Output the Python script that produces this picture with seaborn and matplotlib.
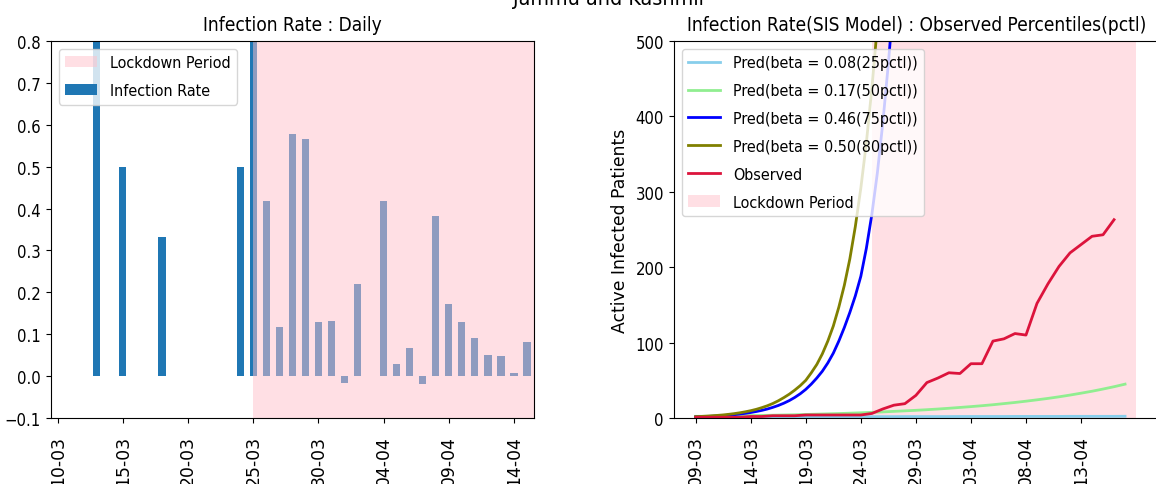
import numpy as np
import pandas as pd
import matplotlib
matplotlib.use("Agg")
import matplotlib.pyplot as plt
import matplotlib.dates as mdates
from matplotlib import font_manager
from matplotlib.patches import Patch
import seaborn as sns

# ---------------------------------------------------------------- data
# Daily infection rate (relative day-on-day change of active cases)
rate_dates = pd.date_range("2020-03-11", "2020-04-15", freq="D")
infection_rate = [
    0, 0, 1.0, 0, 0.5, 0, 0, 0.333, 0, 0, 0, 0, 0, 0.5, 1.0,
    0.417, 0.118, 0.579, 0.567, 0.128, 0.132,
    -0.017, 0.22, 0, 0.417, 0.029, 0.067, -0.018, 0.382, 0.171,
    0.129, 0.09, 0.05, 0.048, 0.008, 0.082,
]

# Observed active infected patients
obs_dates = pd.date_range("2020-03-09", "2020-04-16", freq="D")
observed = [
    1, 1, 1, 1, 1, 2, 2, 3, 3, 3, 4, 4, 4, 4, 4, 4,
    6, 12, 17, 19, 30, 47, 53,
    60, 59, 72, 72, 102, 105, 112, 110, 152, 178, 201, 219, 230, 241, 243, 263,
]

# SIS model predictions for several beta percentiles
pred_dates = pd.date_range("2020-03-09", "2020-04-17", freq="D")
pred_beta_008 = [
    1.5, 1.5, 1.5, 1.5, 1.6, 1.6, 1.6, 1.6, 1.6, 1.7,
    1.7, 1.7, 1.7, 1.7, 1.8, 1.8, 1.8, 1.8, 1.8, 1.9,
    1.9, 1.9, 1.9, 1.9, 2.0, 2.0, 2.0, 2.0, 2.0, 2.1,
    2.1, 2.1, 2.1, 2.1, 2.2, 2.2, 2.2, 2.2, 2.2, 2.3,
]
pred_beta_017 = [
    2.2, 2.3, 2.5, 2.7, 2.9, 3.2, 3.4, 3.7, 4.0, 4.3,
    4.7, 5.1, 5.5, 5.9, 6.4, 6.9, 7.5, 8.1, 8.8, 9.5,
    10.2, 11.0, 11.9, 12.9, 14.0, 15.1, 16.3, 17.6, 19.1, 20.6,
    22.3, 24.1, 26.0, 28.1, 30.4, 32.9, 35.5, 38.4, 41.5, 44.9,
]

# The two fast-growing predictions, sampled every 12 hours
fast_dates = pd.date_range("2020-03-09", periods=39, freq="12h")
pred_beta_046 = [
    1.4, 1.7, 2.0, 2.3, 2.7, 3.2, 3.8, 4.4, 5.2, 6.2,
    7.3, 8.6, 10.1, 11.9, 14.1, 16.6, 19.6, 23.1, 27.3, 32.2,
    38, 45, 53, 62, 73, 86, 102, 120, 140, 162,
    188, 225, 270, 325, 392, 470, 560, 670, 800,
]
pred_beta_050 = [
    1.8, 2.1, 2.5, 3.0, 3.5, 4.1, 4.9, 5.8, 6.9, 8.2,
    9.7, 11.5, 13.7, 16.2, 19.2, 22.8, 27, 31.6, 37, 43,
    50, 60, 71, 85, 102, 122, 147, 176, 211, 254,
    305, 365, 437, 520, 620, 740, 880,
]

pred_series = [
    (pred_dates, pred_beta_008, "skyblue", "Pred(beta = 0.08(25pctl))"),
    (pred_dates, pred_beta_017, "lightgreen", "Pred(beta = 0.17(50pctl))"),
    (fast_dates, pred_beta_046, "blue", "Pred(beta = 0.46(75pctl))"),
    (fast_dates, pred_beta_050, "olive", "Pred(beta = 0.50(80pctl))"),
]

lockdown_start = pd.Timestamp("2020-03-25")
lockdown_end = pd.Timestamp("2020-04-18")

left_ticks = pd.date_range("2020-03-10", "2020-04-14", freq="5D")
right_ticks = pd.date_range("2020-03-09", "2020-04-13", freq="5D")

# ---------------------------------------------------------------- fonts
plt.rcParams["font.family"] = ["DejaVu Sans"]
has_condensed = any(
    f.name == "DejaVu Sans" and f.stretch == "condensed"
    for f in font_manager.fontManager.ttflist
)
if has_condensed:
    plt.rcParams["font.stretch"] = "condensed"
    k = 1.11
else:
    k = 1.0

TITLE_FS = 12.3 * k
LEGEND_FS = 10.4 * k
YTICK_FS = 10.8 * k
SUPTITLE_FS = 13.9 * k
ROT_FS = 12.4

BAR_COLOR = "#1f77b4"
SPAN_COLOR = "pink"

# ---------------------------------------------------------------- figure
fig = plt.figure(figsize=(11.56, 4.85), dpi=100)
ax1 = fig.add_axes([0.04386, 0.13608, 0.41808, 0.77732])
ax2 = fig.add_axes([0.58278, 0.13608, 0.41981, 0.77732])

# Left panel: daily infection rate bars
x_num = mdates.date2num(rate_dates)
sns.barplot(
    x=x_num, y=infection_rate, native_scale=True, orient="x", width=0.55,
    color=BAR_COLOR, saturation=1, errorbar=None, edgecolor="none",
    linewidth=0, ax=ax1,
)
ax1.axvspan(mdates.date2num(lockdown_start), mdates.date2num(lockdown_end),
            color=SPAN_COLOR, alpha=0.5, lw=0)
ax1.set_xlim(mdates.date2num(pd.Timestamp("2020-03-10")) - 0.537,
             mdates.date2num(pd.Timestamp("2020-04-14")) + 1.534)
ax1.set_ylim(-0.1, 0.8)
ax1.set_yticks(np.round(np.arange(-0.1, 0.85, 0.1), 1))
ax1.set_xticks(mdates.date2num(left_ticks),
               labels=[d.strftime("%d-%m") for d in left_ticks],
               rotation=90, fontsize=ROT_FS, fontstretch="normal")
ax1.tick_params(axis="y", labelsize=YTICK_FS)
ax1.tick_params(axis="x", pad=9)
ax1.set_xlabel("")
ax1.set_ylabel("")
ax1.set_title("Infection Rate : Daily", fontsize=TITLE_FS, pad=8)
ax1.legend(
    handles=[Patch(facecolor=SPAN_COLOR, alpha=0.5, label="Lockdown Period"),
             Patch(facecolor=BAR_COLOR, label="Infection Rate")],
    loc="upper left", fontsize=LEGEND_FS, labelspacing=0.8,
)

# Right panel: SIS predictions against observed active cases
for dates, values, color, label in pred_series:
    sns.lineplot(x=dates[:len(values)], y=values, color=color, lw=2,
                 label=label, errorbar=None, ax=ax2)
sns.lineplot(x=obs_dates, y=observed, color="crimson", lw=2,
             label="Observed", errorbar=None, ax=ax2)
ax2.axvspan(lockdown_start, lockdown_end, color=SPAN_COLOR, alpha=0.5, lw=0,
            label="Lockdown Period")
ax2.set_xlim(pd.Timestamp("2020-03-07"), pd.Timestamp("2020-04-20 02:00"))
ax2.set_ylim(0, 500)
ax2.set_yticks(range(0, 501, 100))
ax2.set_xticks(right_ticks,
               labels=[d.strftime("%d-%m") for d in right_ticks],
               rotation=90, fontsize=ROT_FS, fontstretch="normal")
ax2.tick_params(axis="y", labelsize=YTICK_FS)
ax2.tick_params(axis="x", pad=9)
ax2.set_xlabel("")
ax2.set_ylabel("Active Infected Patients", fontsize=ROT_FS,
               fontstretch="normal", labelpad=5)
ax2.set_title("Infection Rate(SIS Model) : Observed Percentiles(pctl)",
              fontsize=TITLE_FS, pad=8)
ax2.legend(loc="upper left", fontsize=LEGEND_FS, labelspacing=0.8)

fig.suptitle("Jammu and Kashmir", x=610 / 1156, y=1 - 5 / 485,
             va="baseline", fontsize=SUPTITLE_FS)

fig.savefig("out.png", dpi=100)
